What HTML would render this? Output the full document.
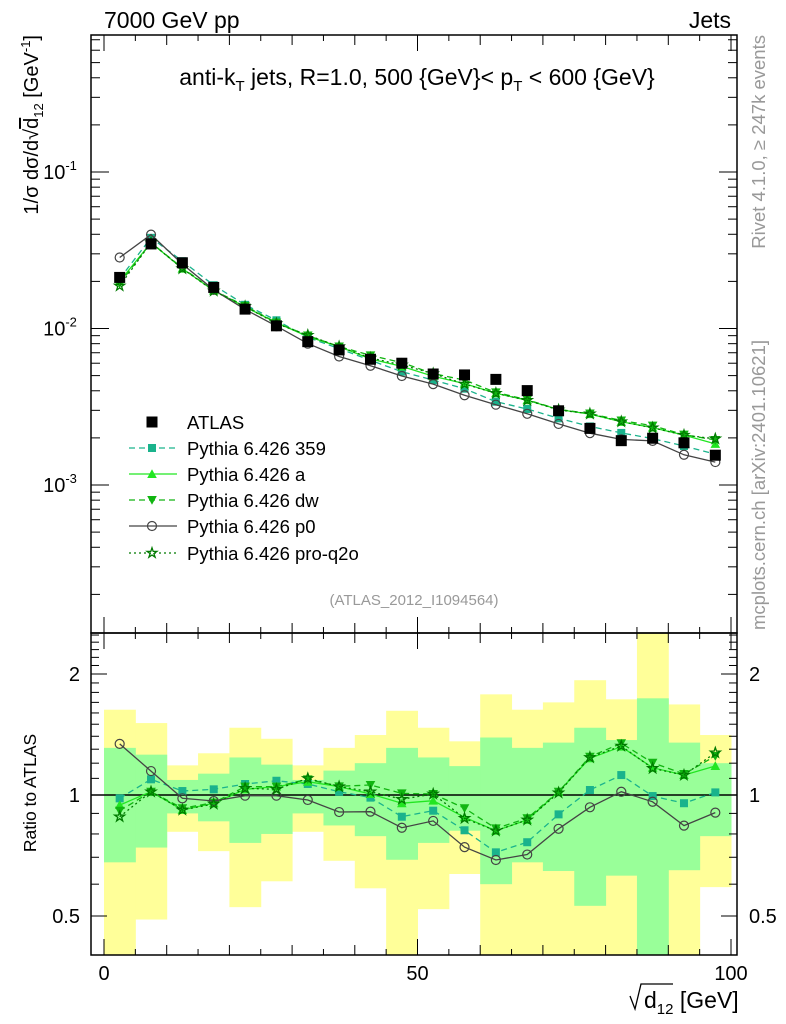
<!DOCTYPE html>
<html><head><meta charset="utf-8"><style>
html,body{margin:0;padding:0;background:#fff;}
svg{display:block;font-family:"Liberation Sans",sans-serif;}
</style></head><body>
<svg id="c" width="786" height="1024" viewBox="0 0 786 1024" xmlns="http://www.w3.org/2000/svg">
<defs>
<clipPath id="clipMain"><rect x="91" y="35" width="646" height="598"/></clipPath>
<clipPath id="clipRatio"><rect x="91" y="633" width="646" height="322"/></clipPath>
</defs>
<g id="bands" clip-path="url(#clipRatio)"></g>
<g id="ratioSeries" clip-path="url(#clipRatio)"></g>
<g id="mainSeries" clip-path="url(#clipMain)"></g>
<g id="axes"></g>
<text x="104" y="28" font-size="23">7000 GeV pp</text>
<text x="731" y="28" font-size="23" text-anchor="end">Jets</text>
<text x="417" y="85" font-size="23" text-anchor="middle">anti-k<tspan font-size="15" dy="6">T</tspan><tspan dy="-6"> jets, R=1.0, 500 {GeV}&lt; p</tspan><tspan font-size="15" dy="6">T</tspan><tspan dy="-6"> &lt; 600 {GeV}</tspan></text>
<text x="414" y="605" font-size="15" fill="#999" text-anchor="middle">(ATLAS_2012_I1094564)</text>
<text transform="translate(38,35) rotate(-90)" font-size="20" text-anchor="end">1/σ dσ/d√<tspan text-decoration="overline">d</tspan><tspan font-size="13" dy="5">12</tspan><tspan dy="-5"> [GeV</tspan><tspan font-size="13" dy="-8">-1</tspan><tspan dy="8">]</tspan></text>
<text transform="translate(36,793) rotate(-90)" font-size="17.5" text-anchor="middle">Ratio to ATLAS</text>
<path d="M630,996 L635,1009 L641,984 L673,984" fill="none" stroke="#000" stroke-width="1.3"/>
<text x="644" y="1008" font-size="23">d<tspan font-size="15" dy="6">12</tspan><tspan dy="-6"> [GeV]</tspan></text>
<text transform="translate(765,35) rotate(-90)" font-size="18.5" fill="#999" text-anchor="end">Rivet 4.1.0, ≥ 247k events</text>
<text transform="translate(765,630) rotate(-90)" font-size="18.5" fill="#999" text-anchor="start">mcplots.cern.ch [arXiv:2401.10621]</text>
<g id="legend"></g>
</svg>
<script>
const binLo = [0,5,10,15,20,25,30,35,40,45,50,55,60,65,70,75,80,85,90,95];
const binHi = [5,10,15,20,25,30,35,40,45,50,55,60,65,70,75,80,85,90,95,100];
const xCenters = [2.5,7.5,12.5,17.5,22.5,27.5,32.5,37.5,42.5,47.5,52.5,57.5,62.5,67.5,72.5,77.5,82.5,87.5,92.5,97.5];
const atlasValues = [0.0212,0.0347,0.0263,0.0183,0.0133,0.0104,0.00824,0.0073,0.00636,0.0060,0.00512,0.00505,0.00473,0.00401,0.00298,0.0023,0.00192,0.00199,0.00186,0.00155];
const ratio359 = [0.981,1.094,1.023,1.033,1.065,1.085,1.065,1.019,0.985,0.883,0.914,0.817,0.72,0.763,0.895,1.029,1.121,0.994,0.954,1.015];
const ratioA = [0.944,1.019,0.918,0.954,1.033,1.049,1.079,1.049,1.006,0.954,0.968,0.88,0.815,0.867,1.019,1.234,1.319,1.169,1.121,1.181];
const ratioDw = [0.914,1.019,0.927,0.957,1.049,1.049,1.094,1.051,1.059,1.009,1.006,0.927,0.826,0.875,1.019,1.245,1.345,1.203,1.128,1.25];
const ratioP0 = [1.34,1.147,0.981,0.966,0.996,0.996,0.972,0.907,0.909,0.829,0.862,0.742,0.689,0.711,0.824,0.932,1.019,0.962,0.839,0.904];
const ratioQ2o = [0.883,1.019,0.918,0.95,1.039,1.033,1.10,1.049,1.019,0.976,1.006,0.875,0.815,0.867,1.013,1.24,1.324,1.165,1.121,1.274];
const yellowHi = [1.63,1.51,1.185,1.27,1.47,1.38,1.185,1.31,1.41,1.62,1.47,1.36,1.78,1.63,1.70,1.93,1.73,3.0,1.68,1.41];
const yellowLo = [0.3,0.49,0.81,0.725,0.526,0.61,0.81,0.686,0.586,0.3,0.52,0.636,0.3,0.3,0.3,0.3,0.3,0.3,0.3,0.59];
const greenHi = [1.31,1.26,1.09,1.13,1.24,1.19,1.09,1.15,1.20,1.31,1.24,1.18,1.39,1.31,1.35,1.47,1.37,1.74,1.35,1.20];
const greenLo = [0.68,0.74,0.90,0.86,0.76,0.80,0.90,0.84,0.79,0.69,0.76,0.815,0.60,0.68,0.647,0.53,0.63,0.3,0.65,0.79];
const xTickLabels = ["0","50","100"];
const xTickValues = [0,50,100];
const ratioTickLabels = ["0.5","1","2"];
const ratioTickValues = [0.5,1,2];
const logTickExps = [-1,-2,-3];

const NS="http://www.w3.org/2000/svg";
const X = v => 104 + v*6.27;
const YM = v => 172 - (Math.log10(v)+1)*156.5;
const YR = r => 795 - Math.log2(r)*121;
function mk(tag, parent, attrs){const e=document.createElementNS(NS,tag);for(const k in attrs)e.setAttribute(k,attrs[k]);parent.appendChild(e);return e;}

const gb=document.getElementById('bands');
for(let i=0;i<binLo.length;i++){
  const y=mk('rect',gb,{x:X(binLo[i]),y:YR(yellowHi[i]),width:X(binHi[i])-X(binLo[i])+0.5,height:YR(yellowLo[i])-YR(yellowHi[i]),fill:'#ffff99'});
  
  
}
for(let i=0;i<binLo.length;i++){
  const g=mk('rect',gb,{x:X(binLo[i]),y:YR(greenHi[i]),width:X(binHi[i])-X(binLo[i])+0.5,height:YR(greenLo[i])-YR(greenHi[i]),fill:'#99ff99'});
  
  
}
const rl=mk('line',gb,{x1:91,x2:737,y1:YR(1),y2:YR(1),stroke:'#000','stroke-width':1.5});



const series=[
 {name:'359',ratio:ratio359,color:'#1ab38c',dash:'6,4',marker:'square'},
 {name:'a',ratio:ratioA,color:'#22e622',dash:'',marker:'tri'},
 {name:'dw',ratio:ratioDw,color:'#11b511',dash:'6,4',marker:'itri'},
 {name:'p0',ratio:ratioP0,color:'#444444',dash:'',marker:'circle'},
 {name:'pro-q2o',ratio:ratioQ2o,color:'#007a00',dash:'2,3',marker:'star'}
];
function marker(parent,type,cx,cy,color,s){
  let e;
  if(type==='square') e=mk('rect',parent,{x:cx-s,y:cy-s,width:2*s,height:2*s,fill:color});
  else if(type==='tri') e=mk('polygon',parent,{points:`${cx},${cy-s*1.2} ${cx-s*1.2},${cy+s} ${cx+s*1.2},${cy+s}`,fill:color});
  else if(type==='itri') e=mk('polygon',parent,{points:`${cx},${cy+s*1.2} ${cx-s*1.2},${cy-s} ${cx+s*1.2},${cy-s}`,fill:color});
  else if(type==='circle') e=mk('circle',parent,{cx:cx,cy:cy,r:s+0.5,fill:'none',stroke:color,'stroke-width':1.2});
  else if(type==='star'){let p=[];for(let k=0;k<10;k++){const r=k%2?s*0.5:s*1.3;const a=-Math.PI/2+k*Math.PI/5;p.push((cx+r*Math.cos(a)).toFixed(1)+','+(cy+r*Math.sin(a)).toFixed(1));}
    e=mk('polygon',parent,{points:p.join(' '),fill:'none',stroke:color,'stroke-width':1.3});}
  else if(type==='bigsquare') e=mk('rect',parent,{x:cx-s,y:cy-s,width:2*s,height:2*s,fill:color});
  return e;
}
const gm=document.getElementById('mainSeries');
const gr=document.getElementById('ratioSeries');
series.forEach(s=>{
  const ptsM=xCenters.map((x,i)=>X(x).toFixed(1)+','+YM(atlasValues[i]*s.ratio[i]).toFixed(1)).join(' ');
  const ptsR=xCenters.map((x,i)=>X(x).toFixed(1)+','+YR(s.ratio[i]).toFixed(1)).join(' ');
  const lm=mk('polyline',gm,{points:ptsM,fill:'none',stroke:s.color,'stroke-width':1.3,'stroke-dasharray':s.dash});
  
  
  const lr=mk('polyline',gr,{points:ptsR,fill:'none',stroke:s.color,'stroke-width':1.3,'stroke-dasharray':s.dash});
  
  
  xCenters.forEach((x,i)=>{
    const m1=marker(gm,s.marker,X(x),YM(atlasValues[i]*s.ratio[i]),s.color,4);
    
    
    const m2=marker(gr,s.marker,X(x),YR(s.ratio[i]),s.color,4);
    
    
  });
});
xCenters.forEach((x,i)=>{
  const m=marker(gm,'bigsquare',X(x),YM(atlasValues[i]),'#000',5.5);
  
  
});

const ga=document.getElementById('axes');
function ln(x1,y1,x2,y2,w){const l=mk('line',ga,{x1,y1,x2,y2,stroke:'#000','stroke-width':w||1});return l;}
const f1=mk('rect',ga,{x:91,y:35,width:646,height:598,fill:'none',stroke:'#000','stroke-width':1.5});


const f2=mk('rect',ga,{x:91,y:633,width:646,height:322,fill:'none',stroke:'#000','stroke-width':1.5});


for(let v=0;v<=100;v+=5){
  const len=v%50===0?16:(v%10===0?10:6);
  const x=X(v);
  ln(x,35,x,35+len);ln(x,633,x,633-len);ln(x,633,x,633+len);ln(x,955,x,955-len);
}
xTickValues.forEach((v,i)=>{
  const t=mk('text',ga,{x:X(v),y:980,'font-size':20,'text-anchor':'middle'});t.textContent=xTickLabels[i];
  
  
});
for(let e=-4;e<=0;e++){for(let m=1;m<=9;m++){
  const v=m*Math.pow(10,e);const y=YM(v);
  if(y<36||y>632)continue;const len=m===1?18:9;
  ln(91,y,91+len,y);ln(737,y,737-len,y);
}}
logTickExps.forEach(e=>{
  const t=mk('text',ga,{x:60,y:YM(Math.pow(10,e))+7,'font-size':20,'text-anchor':'middle'});
  t.innerHTML='10<tspan font-size="13" dy="-9">'+e+'</tspan>';
  
  
});
for(let r=0.4;r<=2.55;r+=0.1){
  const y=YR(r);if(y<634||y>954)continue;
  const isMaj=ratioTickValues.some(v=>Math.abs(v-r)<1e-6);
  const len=isMaj?16:8;
  ln(91,y,91+len,y);ln(737,y,737-len,y);
}
ratioTickValues.forEach((v,i)=>{
  const t1=mk('text',ga,{x:80,y:YR(v)+7,'font-size':20,'text-anchor':'end'});t1.textContent=ratioTickLabels[i];
  
  
  const t2=mk('text',ga,{x:749,y:YR(v)+7,'font-size':20,'text-anchor':'start'});t2.textContent=ratioTickLabels[i];
  
  
});

const gl=document.getElementById('legend');
const rowsY=[422,448,474,500,526,553];
const lm0=marker(gl,'bigsquare',152,rowsY[0],'#000',5.5);


const lt0=mk('text',gl,{x:187,y:rowsY[0]+7,'font-size':18.5});lt0.textContent='ATLAS';


series.forEach((s,i)=>{
  const y=rowsY[i+1];
  const l=mk('line',gl,{x1:129,y1:y,x2:177,y2:y,stroke:s.color,'stroke-width':1.3,'stroke-dasharray':s.dash});
  
  
  const m=marker(gl,s.marker,152,y,s.color,4);
  
  
  const t=mk('text',gl,{x:187,y:y+7,'font-size':18.5});t.textContent='Pythia 6.426 '+s.name;
  
  
});
</script>
</body></html>
